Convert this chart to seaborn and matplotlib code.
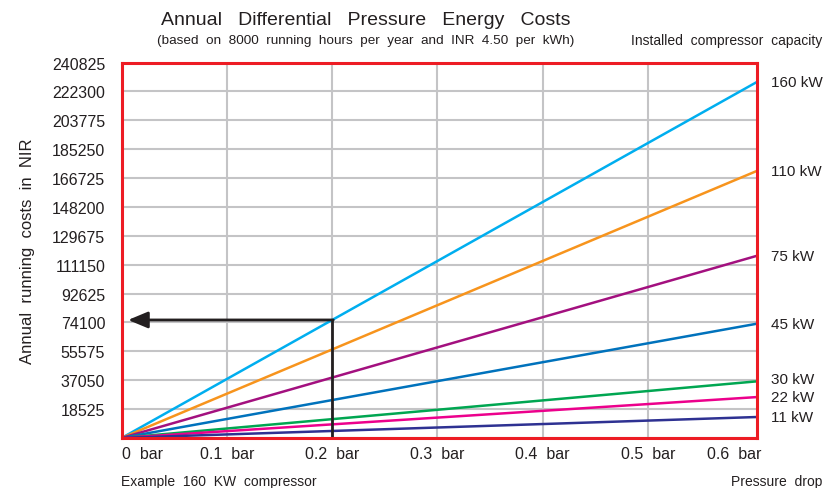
import numpy as np
import pandas as pd
import seaborn as sns
from matplotlib import pyplot as plt
from matplotlib import transforms

# values
pressure = [0.0, 0.604]  # bar, left and right edge of the plot
capacities = ['160 kW', '110 kW', '75 kW', '45 kW', '30 kW', '22 kW', '11 kW']
end_costs = [228500, 171400, 116900, 73300, 36300, 26200, 13400]  # INR at max drop
colors = ['#00aeef', '#f7941d', '#a3107f', '#0072bc', '#00a651', '#ec008c', '#2e3192']

y_ticks = [i * 18525 for i in range(14)]
x_ticks = [0, 0.1, 0.2, 0.3, 0.4, 0.5, 0.6]
x_labels = ['0  bar', '0.1  bar', '0.2  bar', '0.3  bar', '0.4  bar', '0.5  bar', '0.6  bar']

example_drop = 0.2
example_kw = '160 kW'

rows = []
for cap, cost in zip(capacities, end_costs):
    rows.append({'drop': pressure[0], 'cost': 0, 'cap': cap})
    rows.append({'drop': pressure[1], 'cost': cost, 'cap': cap})
df = pd.DataFrame(rows)

sns.set_style('white')
plt.rcParams['font.family'] = ['Liberation Sans', 'DejaVu Sans']

fig = plt.figure(figsize=(8.4, 4.89), dpi=100)
ax = fig.add_axes([0.145, 0.1025, 0.7565, 0.7675])

sns.lineplot(data=df, x='drop', y='cost', hue='cap', hue_order=capacities,
             palette=dict(zip(capacities, colors)), lw=1.8, legend=False, ax=ax)

ax.set_xlim(pressure[0], pressure[1])
ax.set_ylim(0, y_ticks[-1])
ax.set_xticks(x_ticks)
ax.set_xticklabels(x_labels)
ax.set_yticks(y_ticks)
ax.set_yticklabels([''] + [str(v) for v in y_ticks[1:]])
ax.grid(True, axis='y', color='#c4c4c6', lw=1.5)
for xv in x_ticks[1:-1]:
    ax.axvline(xv, color='#c4c4c6', lw=1.5, zorder=0)
ax.set_axisbelow(True)
ax.tick_params(length=0, labelsize=11.5, colors='#231f20')
ax.tick_params(axis='x', pad=6)
ax.tick_params(axis='y', pad=12)
lbls = ax.get_xticklabels()
lbls[0].set_ha('left')
lbls[-1].set_ha('right')
lbls[-1].set_transform(lbls[-1].get_transform() +
                       transforms.ScaledTranslation(8 / 100, 0, fig.dpi_scale_trans))
for s in ax.spines.values():
    s.set_color('#ed1c24')
    s.set_linewidth(2.2)
ax.set_xlabel('')
ax.set_ylabel('Annual  running  costs  in  NIR', fontsize=12, color='#231f20', labelpad=12)

# capacity labels at the line ends
offsets = {'30 kW': 2, '22 kW': 0}
for cap, cost in zip(capacities, end_costs):
    ax.annotate(cap, xy=(pressure[1], cost), xytext=(10, offsets.get(cap, 0)),
                textcoords='offset points', va='center', ha='left',
                fontsize=11, color='#231f20', annotation_clip=False)

# example: 160 kW at 0.2 bar
i = capacities.index(example_kw)
ex_cost = np.interp(example_drop, pressure, [0, end_costs[i]])
ax.plot([example_drop, example_drop], [0, ex_cost], color='#231f20', lw=2, solid_capstyle='butt')
ax.annotate('', xy=(0.006, ex_cost), xytext=(example_drop + 0.001, ex_cost),
            arrowprops=dict(arrowstyle='-|>,head_length=1.2,head_width=0.5',
                            color='#231f20', lw=2, shrinkA=0, shrinkB=0))

fig.text(0.435, 0.958, 'Annual   Differential   Pressure   Energy   Costs',
         ha='center', va='center', fontsize=14, color='#231f20')
fig.text(0.435, 0.916, '(based  on  8000  running  hours  per  year  and  INR  4.50  per  kWh)',
         ha='center', va='center', fontsize=9.7, color='#231f20')
fig.text(0.979, 0.916, 'Installed  compressor  capacity',
         ha='right', va='center', fontsize=10, color='#231f20')
fig.text(0.144, 0.014, 'Example  160  KW  compressor',
         ha='left', va='center', fontsize=10, color='#231f20')
fig.text(0.979, 0.014, 'Pressure  drop',
         ha='right', va='center', fontsize=10, color='#231f20')

fig.savefig('out.png', dpi=100)
